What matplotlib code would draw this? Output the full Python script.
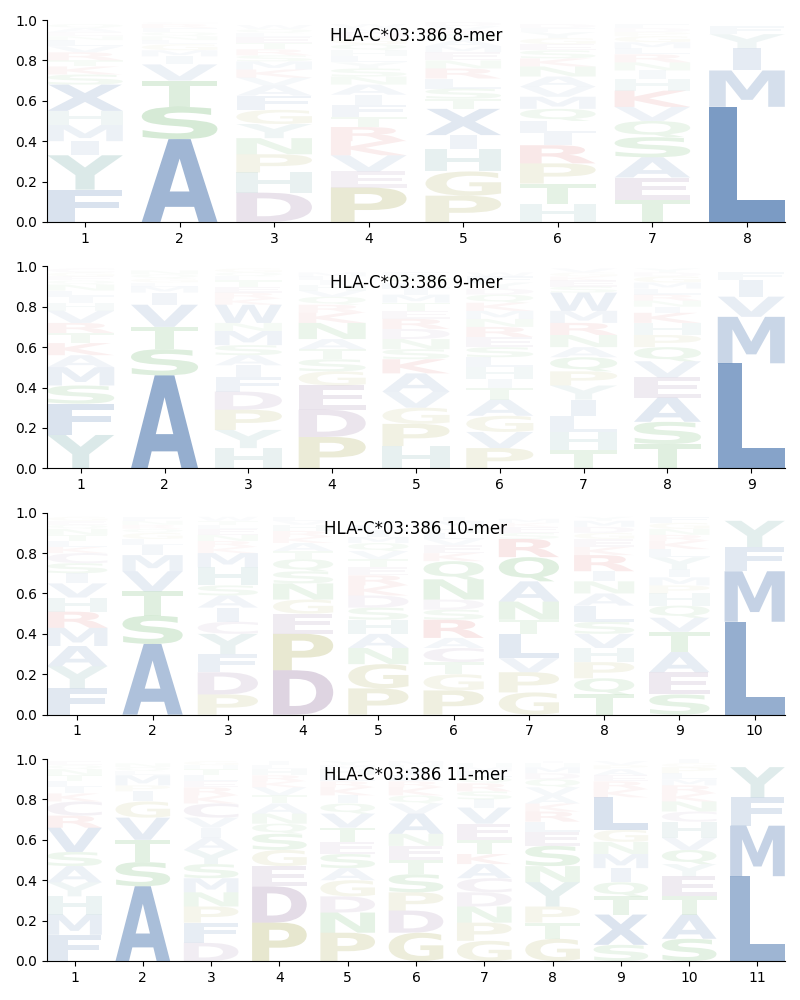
import numpy as np
import matplotlib
matplotlib.use('Agg')
import matplotlib.pyplot as plt
from matplotlib.textpath import TextPath
from matplotlib.font_manager import FontProperties
from matplotlib.patches import PathPatch
from matplotlib.transforms import Affine2D

allele = 'HLA-C*03:386'
lengths = [8, 9, 10, 11]

# letter frequencies per position, bottom -> top
mer8 = [
    [('F',.16),('Y',.17),('I',.07),('M',.08),('H',.07),('X',.13),('S',.05),('K',.04),('T',.03),('R',.04),('V',.03),('L',.03),('N',.02),('E',.02),('A',.02),('Q',.02)],
    [('A',.41),('S',.16),('T',.13),('V',.08),('I',.04),('M',.03),('G',.03),('L',.02),('N',.02),('Q',.02),('F',.02),('R',.02),('C',.01)],
    [('D',.145),('H',.10),('P',.09),('N',.08),('Y',.07),('G',.07),('F',.07),('A',.05),('V',.04),('K',.04),('M',.04),('S',.03),('R',.03),('T',.03),('E',.03),('L',.02),('Q',.02),('W',.02)],
    [('P',.17),('E',.08),('V',.08),('K',.07),('R',.07),('T',.05),('F',.06),('I',.05),('A',.05),('N',.04),('S',.04),('Y',.03),('L',.03),('H',.03),('Q',.03),('G',.03),('D',.03),('M',.02),('W',.02)],
    [('P',.13),('G',.12),('H',.11),('I',.07),('X',.13),('T',.05),('S',.05),('L',.05),('R',.05),('N',.04),('E',.04),('M',.03),('A',.03),('Q',.03),('K',.02),('V',.02),('D',.02)],
    [('H',.09),('T',.10),('P',.10),('R',.09),('I',.06),('L',.06),('Q',.06),('M',.06),('V',.05),('A',.05),('N',.05),('K',.04),('S',.04),('E',.03),('G',.03),('Y',.03),('F',.02),('D',.02)],
    [('T',.11),('E',.11),('A',.10),('S',.10),('Q',.08),('V',.07),('K',.08),('H',.06),('I',.04),('N',.04),('R',.04),('L',.03),('M',.03),('G',.03),('P',.02),('D',.02),('F',.02)],
    [('L',.57),('M',.18),('I',.11),('Y',.07),('F',.04)],
]
mer9 = [
    [('Y',.165),('F',.155),('S',.09),('M',.09),('A',.06),('K',.06),('T',.05),('R',.05),('V',.06),('H',.04),('I',.03),('L',.03),('N',.03),('Q',.02),('E',.02),('G',.02),('C',.02)],
    [('A',.46),('S',.13),('T',.11),('V',.11),('I',.06),('M',.03),('L',.02),('G',.02),('Q',.02),('N',.02)],
    [('H',.10),('Y',.09),('P',.10),('D',.09),('F',.07),('I',.06),('A',.05),('S',.05),('M',.07),('N',.04),('W',.09),('K',.03),('R',.03),('E',.03),('T',.03),('L',.02),('Q',.02),('G',.02)],
    [('P',.155),('D',.135),('E',.12),('G',.07),('S',.06),('T',.05),('A',.05),('N',.08),('K',.05),('R',.04),('Q',.04),('V',.03),('H',.03),('I',.02),('L',.02),('M',.02)],
    [('H',.11),('P',.11),('G',.08),('V',.08),('A',.09),('K',.07),('S',.05),('N',.05),('D',.05),('R',.05),('E',.04),('T',.04),('M',.04),('I',.03),('L',.03),('Q',.03),('F',.02)],
    [('P',.10),('V',.08),('G',.08),('A',.08),('T',.06),('I',.04),('H',.06),('L',.05),('S',.05),('E',.05),('R',.05),('N',.04),('M',.04),('K',.04),('Q',.04),('D',.03),('Y',.03),('F',.03),('W',.02)],
    [('T',.09),('H',.09),('L',.08),('I',.08),('Y',.07),('P',.07),('Q',.07),('A',.05),('N',.06),('R',.06),('M',.06),('W',.09),('S',.03),('E',.03),('K',.02),('G',.02),('V',.02)],
    [('T',.12),('S',.11),('A',.12),('E',.10),('V',.08),('Q',.07),('P',.06),('H',.06),('K',.05),('I',.03),('N',.03),('R',.03),('L',.03),('M',.03),('G',.03),('D',.02),('Y',.02)],
    [('L',.52),('M',.23),('V',.10),('I',.08),('F',.04)],
]
mer10 = [
    [('F',.13),('Y',.11),('A',.10),('M',.09),('R',.08),('H',.07),('V',.07),('I',.05),('S',.05),('C',.05),('K',.03),('L',.03),('T',.03),('N',.03),('Q',.02),('E',.02),('G',.02)],
    [('A',.35),('S',.14),('T',.12),('V',.10),('M',.08),('I',.05),('L',.03),('G',.03),('Q',.02),('R',.02),('N',.02),('F',.02)],
    [('P',.10),('D',.11),('F',.09),('Y',.10),('C',.06),('I',.07),('A',.06),('S',.05),('H',.09),('M',.07),('K',.03),('R',.03),('N',.03),('E',.03),('L',.02),('T',.02),('W',.02)],
    [('D',.22),('P',.18),('E',.10),('G',.07),('N',.08),('S',.06),('Q',.06),('T',.04),('A',.04),('K',.03),('R',.03),('H',.03),('V',.02),('L',.02)],
    [('P',.13),('G',.12),('N',.08),('A',.07),('H',.07),('S',.06),('D',.06),('K',.05),('R',.05),('E',.04),('T',.04),('V',.04),('Q',.04),('M',.03),('I',.03),('L',.03),('Y',.02)],
    [('P',.12),('G',.08),('T',.06),('C',.07),('A',.05),('R',.09),('S',.05),('D',.05),('N',.10),('Q',.09),('K',.04),('E',.04),('V',.03),('L',.03),('H',.03),('M',.03),('I',.02)],
    [('G',.11),('P',.10),('V',.07),('L',.12),('T',.07),('N',.09),('A',.10),('Q',.12),('R',.09),('S',.03),('E',.03),('K',.02),('M',.02)],
    [('T',.10),('Q',.08),('P',.08),('H',.07),('V',.07),('S',.06),('L',.08),('A',.06),('N',.06),('I',.05),('R',.08),('K',.04),('E',.04),('G',.03),('D',.03),('M',.03),('Y',.02)],
    [('S',.10),('E',.11),('A',.10),('T',.10),('V',.07),('Q',.06),('H',.06),('P',.04),('M',.04),('I',.04),('Y',.06),('L',.04),('K',.04),('R',.03),('N',.03),('G',.03),('F',.03)],
    [('L',.46),('M',.25),('F',.12),('Y',.13)],
]
mer11 = [
    [('F',.13),('M',.10),('H',.09),('Y',.07),('A',.08),('S',.07),('V',.12),('R',.06),('C',.07),('K',.04),('I',.03),('L',.03),('T',.03),('N',.03),('Q',.02),('E',.02)],
    [('A',.37),('S',.12),('T',.11),('V',.11),('G',.08),('I',.05),('P',.03),('M',.05),('L',.02),('Q',.02),('N',.02)],
    [('D',.09),('F',.10),('P',.08),('N',.07),('M',.07),('S',.07),('Y',.07),('A',.06),('I',.05),('V',.05),('C',.07),('K',.04),('R',.04),('E',.03),('L',.03),('T',.03),('H',.02),('G',.02)],
    [('P',.19),('D',.18),('E',.10),('G',.08),('S',.08),('Q',.05),('N',.05),('A',.05),('T',.04),('V',.04),('K',.03),('R',.03),('H',.03),('L',.02),('I',.02)],
    [('P',.14),('N',.10),('D',.08),('G',.08),('A',.06),('S',.07),('E',.06),('T',.07),('V',.07),('Q',.05),('I',.04),('K',.04),('R',.03),('L',.03),('H',.03),('M',.02),('Y',.02)],
    [('G',.14),('D',.11),('P',.09),('S',.09),('T',.07),('E',.07),('N',.06),('A',.10),('V',.05),('Q',.04),('K',.04),('R',.03),('L',.03),('I',.03),('H',.02),('M',.02)],
    [('G',.10),('P',.09),('N',.08),('D',.07),('C',.07),('A',.07),('K',.05),('T',.07),('E',.08),('V',.08),('I',.04),('S',.04),('R',.04),('Q',.03),('L',.03),('M',.02),('H',.02)],
    [('G',.11),('T',.08),('P',.08),('Y',.12),('N',.08),('S',.10),('E',.07),('L',.05),('R',.05),('K',.04),('A',.04),('V',.04),('Q',.04),('D',.03),('M',.03),('H',.02),('I',.01)],
    [('S',.08),('X',.15),('T',.09),('Q',.07),('I',.07),('M',.07),('N',.06),('G',.06),('L',.16),('K',.04),('R',.04),('E',.03),('A',.03),('P',.02),('V',.02)],
    [('S',.11),('A',.12),('T',.09),('E',.10),('Y',.06),('Q',.07),('V',.06),('H',.08),('C',.05),('N',.05),('K',.04),('R',.04),('M',.03),('L',.03),('P',.03),('G',.02),('I',.02)],
    [('L',.42),('M',.25),('F',.14),('Y',.15)],
]
panels = [mer8, mer9, mer10, mer11]

colors = {}
for c in 'AVLIMFWX': colors[c] = '#184f98'
for c in 'PG': colors[c] = '#808000'
for c in 'DEC': colors[c] = '#6a3d7a'
for c in 'KR': colors[c] = '#c00000'
for c in 'STNQ': colors[c] = '#008000'
for c in 'HY': colors[c] = '#2a7f7a'

fp = FontProperties(family='DejaVu Sans', weight='bold')
ew = TextPath((0, 0), 'E', size=1, prop=fp).get_extents().width

def draw_letter(ax, c, x, y0, h, width=0.8):
    tp = TextPath((0, 0), c, size=1, prop=fp)
    bb = tp.get_extents()
    sx = width / max(bb.width, ew)   # narrow glyphs not stretched more than E
    sy = h / bb.height
    w = bb.width * sx
    t = Affine2D().translate(-bb.x0, -bb.y0).scale(sx, sy).translate(x - w / 2, y0)
    ax.add_patch(PathPatch(t.transform_path(tp), fc=colors[c], ec='none', alpha=min(1.0, h)))

fig, axes = plt.subplots(4, 1, figsize=(8, 10), dpi=100)
fig.subplots_adjust(left=0.059, right=0.981, top=0.98, bottom=0.039, hspace=0.22)

for ax, data, n in zip(axes, panels, lengths):
    for i, col in enumerate(data):
        y = 0.0
        for c, v in col:
            draw_letter(ax, c, i + 1, y, v)
            y += v
    ax.set_xlim(0.6, n + 0.4)
    ax.set_ylim(0, 1)
    ax.set_xticks(range(1, n + 1))
    ax.set_yticks(np.arange(0, 1.01, 0.2))
    ax.spines['top'].set_visible(False)
    ax.spines['right'].set_visible(False)
    ax.text(0.5, 0.92, '%s %d-mer' % (allele, n), transform=ax.transAxes,
            ha='center', va='center', fontsize=12)

fig.savefig('out.png')
